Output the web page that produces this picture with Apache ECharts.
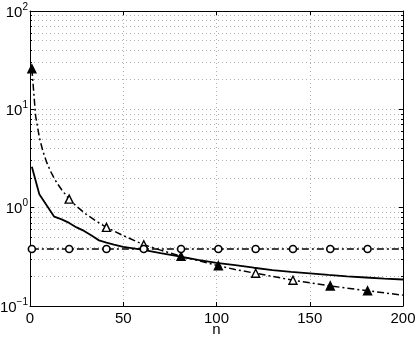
<!DOCTYPE html>
<html><head><meta charset="utf-8">
<script src="https://cdn.jsdelivr.net/npm/echarts@6/dist/echarts.min.js"></script>
<style>html,body{margin:0;padding:0;background:#fff}#c{width:415px;height:338px}</style>
</head><body><div id="c"></div>
<script>
// ---- data ----
const xTicks = [0, 50, 100, 150, 200];
const yTicks = [0.1, 1, 10, 100];

const solidN = [1, 5, 13, 17, 21, 25, 29, 33, 37, 41, 45, 50, 60, 70, 80, 90, 100, 110, 120, 130, 140, 150, 160, 170, 180, 190, 200];
const solidV = [2.6, 1.37, 0.81, 0.76, 0.70, 0.63, 0.58, 0.52, 0.465, 0.44, 0.42, 0.40, 0.375, 0.345, 0.32, 0.295, 0.275, 0.26, 0.245, 0.232, 0.222, 0.215, 0.207, 0.2, 0.195, 0.19, 0.186];

const triN = [1, 3, 5, 7, 9, 11, 13, 15, 17, 21, 25, 30, 35, 41, 50, 61, 70, 81, 90, 101, 110, 121, 130, 141, 150, 161, 170, 181, 190, 200];
const triV = [25.8, 8.6, 5.2, 3.7, 2.87, 2.35, 1.98, 1.72, 1.52, 1.22, 1.03, 0.86, 0.74, 0.63, 0.52, 0.42, 0.37, 0.32, 0.29, 0.257, 0.235, 0.215, 0.2, 0.183, 0.172, 0.16, 0.152, 0.143, 0.136, 0.129];
const triMarkN = [1, 21, 41, 61, 81, 101, 121, 141, 161, 181];
const triFilledN = [1, 81, 101, 161, 181];

const circN = [1, 21, 41, 61, 81, 101, 121, 141, 161, 181, 200];
const circV = [0.38, 0.38, 0.38, 0.38, 0.38, 0.38, 0.38, 0.38, 0.38, 0.38, 0.38];
const circMarkN = [1, 21, 41, 61, 81, 101, 121, 141, 161, 181];

// ---- build ----
const FONT = '"Liberation Sans", Arial, sans-serif';
const dashDot = [7, 3, 2, 3];

const solidData = solidN.map((n, i) => [n, solidV[i]]);
const triData = triN.map((n, i) => {
  const mark = triMarkN.includes(n);
  return {
    value: [n, triV[i]],
    symbol: mark ? 'triangle' : 'none',
    symbolSize: mark ? 8 : 0,
    itemStyle: { color: triFilledN.includes(n) ? '#000' : '#fff', borderColor: '#000', borderWidth: 1.4 }
  };
});
const circData = circN.map((n, i) => {
  const mark = circMarkN.includes(n);
  return {
    value: [n, circV[i]],
    symbol: mark ? 'circle' : 'none',
    symbolSize: mark ? 7 : 0,
    itemStyle: { color: '#fff', borderColor: '#000', borderWidth: 1.6 }
  };
});

const gridStyle = { color: '#b0b0b0', width: 1, type: [1, 3] };
const supFmt = v => {
  const e = Math.round(Math.log10(v));
  if (!yTicks.some(t => Math.abs(t - v) < 1e-9)) return '';
  return '{b|10}{s|' + (e < 0 ? '\u2212' + (-e) : e) + '}';
};

const chart = echarts.init(document.getElementById('c'), null, { renderer: 'canvas' });
chart.setOption({
  animation: false,
  backgroundColor: '#fff',
  grid: { left: 30, right: 12, top: 11, bottom: 32, containLabel: false, outerBoundsMode: 'none' },
  xAxis: [{
    type: 'value', min: xTicks[0], max: xTicks[xTicks.length - 1], interval: 50,
    name: 'n', nameLocation: 'middle', nameGap: 16, nameMoveOverlap: false,
    nameTextStyle: { fontFamily: FONT, fontSize: 15, color: '#000' },
    axisLine: { show: true, onZero: false, lineStyle: { color: '#000', width: 1 } },
    axisTick: { show: true, inside: true, length: 4, lineStyle: { color: '#000' } },
    axisLabel: { fontFamily: FONT, fontSize: 15, color: '#000', margin: 5 },
    splitLine: { show: true, lineStyle: gridStyle }
  }, {
    type: 'value', position: 'top', min: xTicks[0], max: xTicks[xTicks.length - 1], interval: 50,
    axisLine: { show: true, onZero: false, lineStyle: { color: '#000', width: 1 } },
    axisTick: { show: true, inside: true, length: 4, lineStyle: { color: '#000' } },
    axisLabel: { show: false }, splitLine: { show: false }
  }],
  yAxis: [{
    type: 'log', logBase: 10, min: yTicks[0], max: yTicks[yTicks.length - 1],
    axisLine: { show: true, onZero: false, lineStyle: { color: '#000', width: 1 } },
    axisTick: { show: true, inside: true, length: 4, lineStyle: { color: '#000' } },
    minorTick: { show: true, splitNumber: 9, length: 2, lineStyle: { color: '#000' } },
    minorSplitLine: { show: true, lineStyle: gridStyle },
    axisLabel: {
      formatter: supFmt, margin: 2,
      rich: {
        b: { fontFamily: FONT, fontSize: 15, color: '#000', lineHeight: 18, verticalAlign: 'bottom' },
        s: { fontFamily: FONT, fontSize: 10, color: '#000', lineHeight: 18, verticalAlign: 'top', padding: [0, 0, 9, 0] }
      }
    },
    splitLine: { show: true, lineStyle: gridStyle }
  }, {
    type: 'log', logBase: 10, position: 'right', min: yTicks[0], max: yTicks[yTicks.length - 1],
    axisLine: { show: true, onZero: false, lineStyle: { color: '#000', width: 1 } },
    axisTick: { show: true, inside: true, length: 4, lineStyle: { color: '#000' } },
    minorTick: { show: true, splitNumber: 9, length: 2, lineStyle: { color: '#000' } },
    axisLabel: { show: false }, splitLine: { show: false }
  }],
  series: [{
    type: 'line', data: solidData, symbol: 'none', smooth: false,
    lineStyle: { color: '#000', width: 1.8, type: 'solid' }, z: 3
  }, {
    type: 'line', data: triData, smooth: false,
    lineStyle: { color: '#000', width: 1.5, type: dashDot }, z: 4
  }, {
    type: 'line', data: circData, smooth: false,
    lineStyle: { color: '#000', width: 1.5, type: dashDot }, z: 4
  }]
});
</script></body></html>
